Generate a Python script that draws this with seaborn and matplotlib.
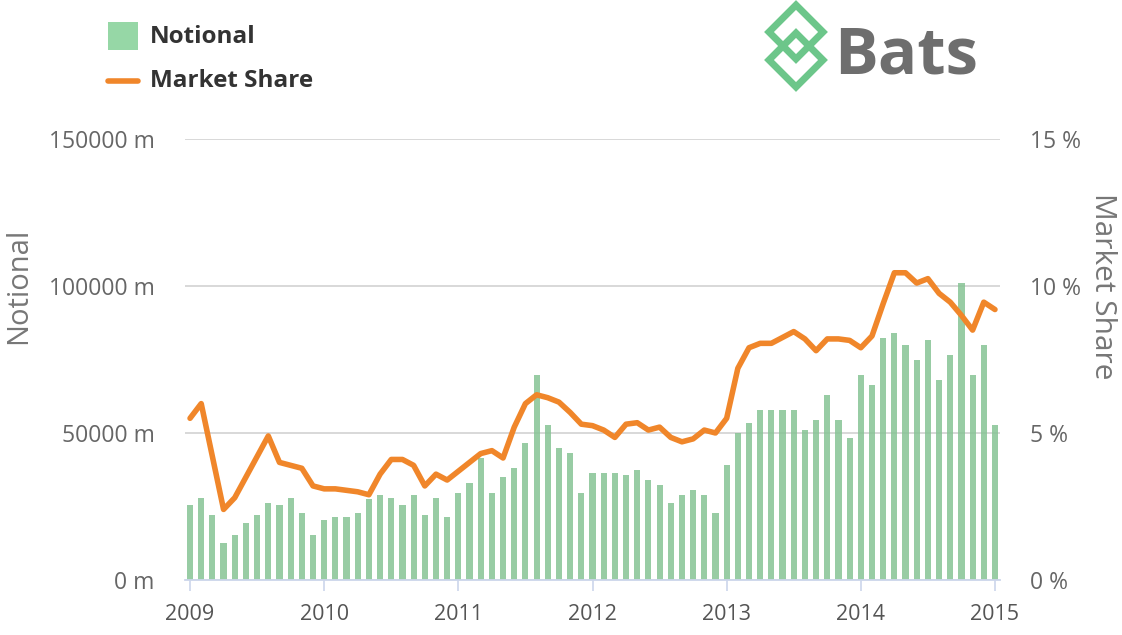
import numpy as np
import pandas as pd
import matplotlib
matplotlib.use("Agg")
import matplotlib.pyplot as plt
from matplotlib.patches import Rectangle, Polygon
from matplotlib.lines import Line2D
import seaborn as sns

# monthly notional (millions), Jan 2009 .. Jan 2015
notional = [
    25500, 28000, 22000, 12600, 15300, 19400, 22000, 26200, 25500, 28000, 22800, 15300,
    20400, 21400, 21400, 22800, 27500, 29000, 28000, 25500, 29000, 22000, 28000, 21400,
    29600, 33000, 41500, 29600, 35000, 38000, 46600, 69700, 52700, 45000, 43200, 29600,
    36400, 36400, 36400, 35700, 37400, 34000, 32300, 26200, 29000, 30600, 29000, 22800,
    39000, 50000, 53400, 57800, 57800, 57800, 57800, 51000, 54400, 63000, 54400, 48300,
    69700, 66300, 82300, 84000, 80000, 74800, 81600, 68000, 76500, 101000, 69700, 80000,
    52700,
]
# market share (%)
share = [
    5.5, 6.0, 4.2, 2.4, 2.8, 3.5, 4.2, 4.9, 4.0, 3.9, 3.8, 3.2,
    3.1, 3.1, 3.05, 3.0, 2.9, 3.6, 4.1, 4.1, 3.9, 3.2, 3.6, 3.4,
    3.7, 4.0, 4.3, 4.4, 4.15, 5.2, 6.0, 6.3, 6.2, 6.05, 5.7, 5.3,
    5.25, 5.1, 4.85, 5.3, 5.35, 5.1, 5.2, 4.85, 4.7, 4.8, 5.1, 5.0,
    5.5, 7.2, 7.9, 8.05, 8.05, 8.25, 8.45, 8.2, 7.8, 8.2, 8.2, 8.15,
    7.9, 8.3, 9.4, 10.45, 10.45, 10.1, 10.25, 9.75, 9.45, 9.0, 8.5, 9.45,
    9.2,
]
years = ["2009", "2010", "2011", "2012", "2013", "2014", "2015"]
left_ticks = [0, 50000, 100000, 150000]
right_ticks = [0, 5, 10, 15]

df = pd.DataFrame({"month": np.arange(len(notional)), "notional": notional, "share": share})

sns.set_theme(style="white")
plt.rcParams["font.family"] = ["Open Sans", "DejaVu Sans"]

green = "#7ccd8e"
orange = "#f0862a"
grey = "#666666"

fig = plt.figure(figsize=(11.22, 6.35), dpi=100)
ax = fig.add_axes([185 / 1122, 55 / 635, 815 / 1122, 441 / 635])

sns.barplot(data=df, x="month", y="notional", native_scale=True, width=0.55,
            color=green, alpha=0.85, linewidth=0, ax=ax)
ax.set_xlim(-0.45, 72.45)
ax.set_ylim(0, 150000)
ax.set_yticks(left_ticks)
ax.set_yticklabels([f"{v} m" for v in left_ticks])
ax.set_xticks(range(0, 73, 12))
ax.set_xticklabels(years)
ax.yaxis.grid(True, color="#d6d6d6", lw=1.3)
ax.set_axisbelow(True)
for s in ["top", "right", "left"]:
    ax.spines[s].set_visible(False)
ax.spines["bottom"].set_color("#ccd6eb")
ax.spines["bottom"].set_linewidth(1.3)
ax.tick_params(axis="x", length=8, width=1.2, color="#ccd6eb", labelsize=15.5,
               labelcolor="#555555", pad=9, bottom=True)
ax.tick_params(axis="y", length=0, labelsize=16.5, labelcolor=grey, pad=22)
ax.set_xlabel("")
ax.set_ylabel("Notional", fontsize=21, color="#777777")
ax.yaxis.set_label_coords(-0.1865, 0.667)

ax2 = ax.twinx()
sns.lineplot(data=df, x="month", y="share", color=orange, lw=4.0, ax=ax2,
             solid_joinstyle="round", solid_capstyle="round")
ax2.set_ylim(0, 15)
ax2.set_yticks(right_ticks)
ax2.set_yticklabels([f"{v} %" for v in right_ticks])
ax2.grid(False)
for s in ax2.spines.values():
    s.set_visible(False)
ax2.tick_params(axis="y", length=0, labelsize=16.5, labelcolor=grey, pad=21.5)
ax2.set_ylabel("Market Share", fontsize=21.5, color="#777777", rotation=-90)
ax2.yaxis.set_label_coords(1.1436, 0.667)
ax2.set_xlim(-0.45, 72.45)


def fx(px):
    return px / 1122


def fy(py):
    return 1 - py / 635


# legend
fig.add_artist(Rectangle((fx(108), fy(50)), 30 / 1122, 28 / 635,
                         transform=fig.transFigure, color="#96d7a6", lw=0))
fig.add_artist(Line2D([fx(108), fx(138)], [fy(81), fy(81)], transform=fig.transFigure,
                      color=orange, lw=4.0))
fig.text(fx(150), fy(37), "Notional", fontsize=17.5, fontweight="bold",
         color="#333333", va="center")
fig.text(fx(150), fy(81), "Market Share", fontsize=17.5, fontweight="bold",
         color="#333333", va="center")

# logo
for cy in (32, 60):
    pts = [(fx(796), fy(cy - 27)), (fx(823), fy(cy)), (fx(796), fy(cy + 27)), (fx(769), fy(cy))]
    fig.add_artist(Polygon(pts, closed=True, fill=False, edgecolor="#6cc68a", lw=5,
                           transform=fig.transFigure, joinstyle="miter"))
fig.text(fx(834), fy(74), "Bats", fontsize=47, fontweight="bold", color="#6e6e6e",
         va="baseline")

fig.savefig("out.png", dpi=100)
